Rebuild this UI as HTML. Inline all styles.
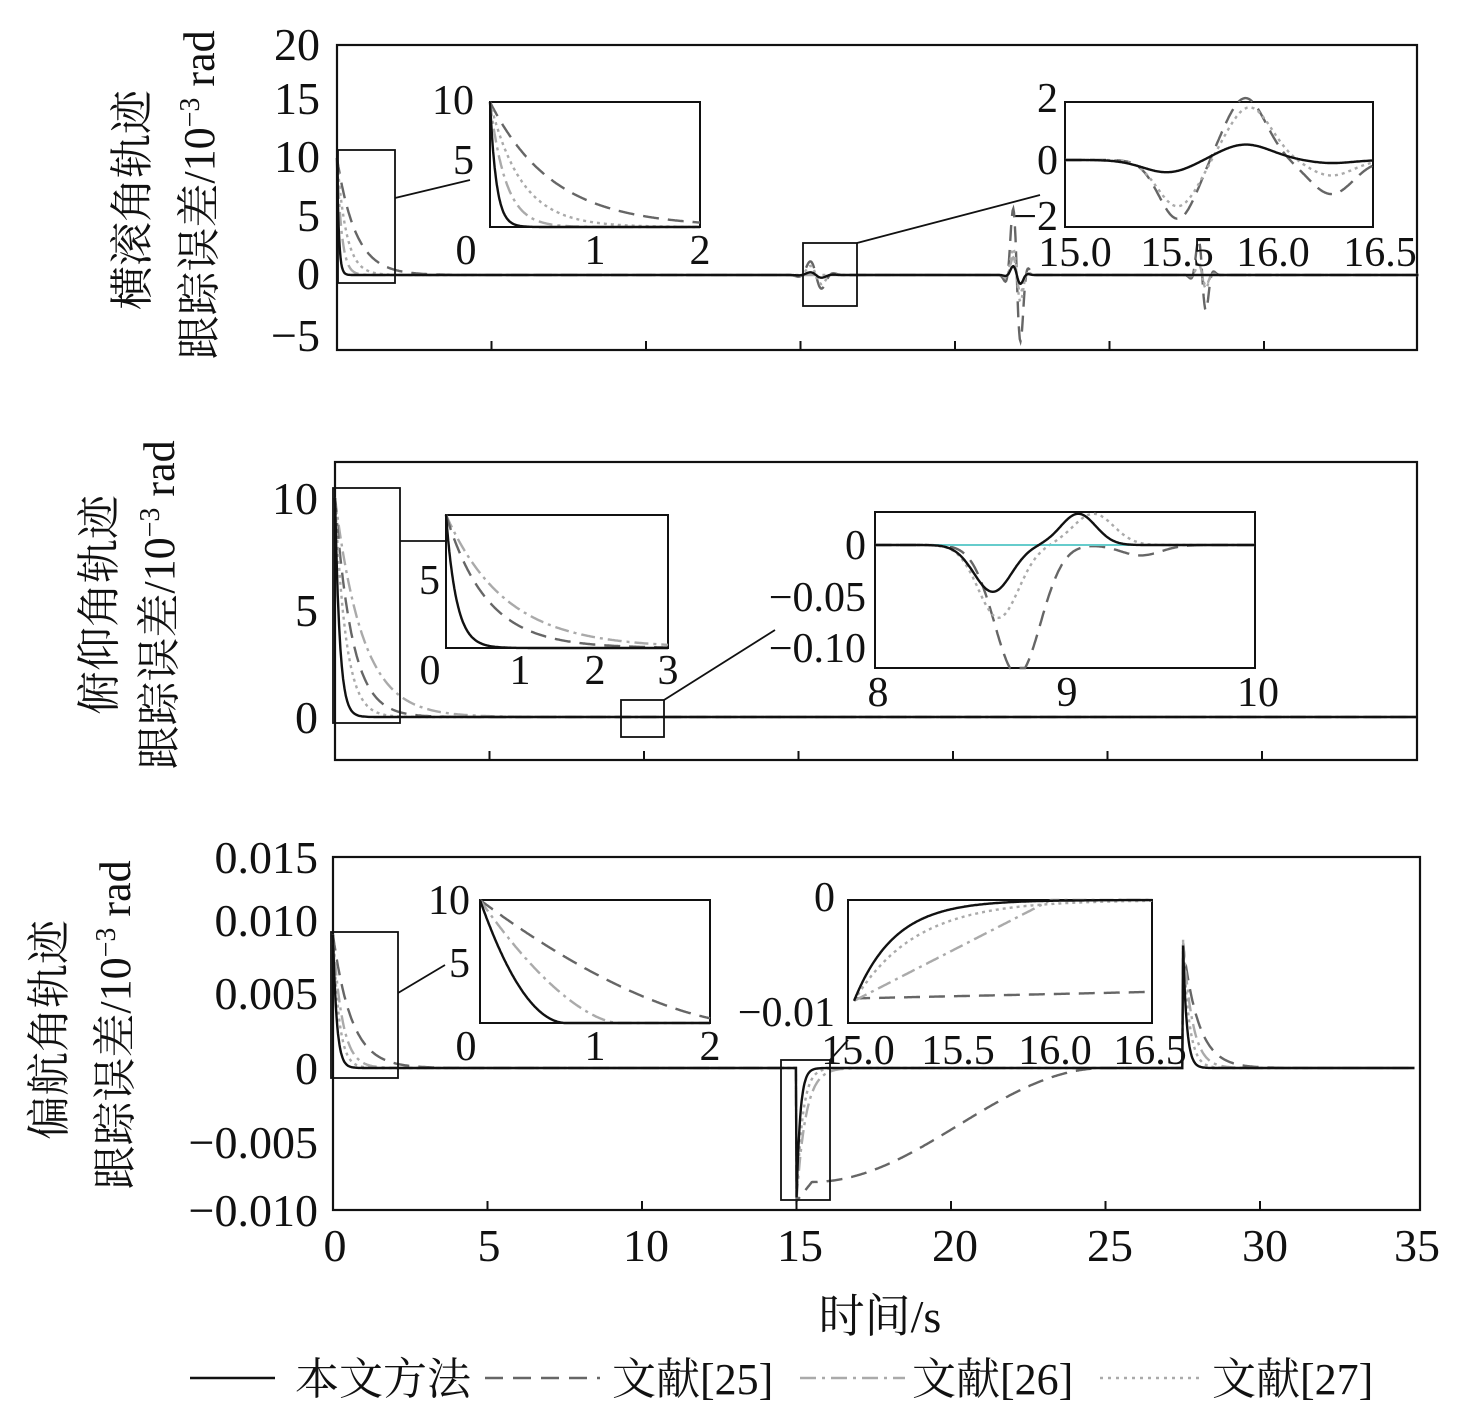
<!DOCTYPE html>
<html><head><meta charset="utf-8"><style>
html,body{margin:0;padding:0;background:#fff;}
svg text{font-family:"Liberation Serif","Noto Serif CJK SC",serif;fill:#111;}
</style></head><body>
<svg id="s" width="1476" height="1409" viewBox="0 0 1476 1409" xmlns="http://www.w3.org/2000/svg">
<g fill="none" stroke="#111" stroke-width="2.2">
<rect x="337" y="45" width="1080" height="305"/>
<rect x="335" y="462" width="1082" height="298"/>
<rect x="333" y="857" width="1087" height="353"/>
</g>
<g font-size="46" text-anchor="end">
<text x="320" y="60">20</text><text x="320" y="114">15</text><text x="320" y="172">10</text><text x="320" y="231">5</text><text x="320" y="289">0</text><text x="320" y="351">−5</text>
<text x="318" y="514">10</text><text x="318" y="626">5</text><text x="318" y="733">0</text>
<text x="318" y="873">0.015</text><text x="318" y="936">0.010</text><text x="318" y="1009">0.005</text><text x="318" y="1084">0</text><text x="318" y="1158">−0.005</text><text x="318" y="1226">−0.010</text>
</g>
<g font-size="46" text-anchor="middle">
<text x="335" y="1261">0</text><text x="489" y="1261">5</text><text x="646" y="1261">10</text><text x="800" y="1261">15</text><text x="955" y="1261">20</text><text x="1110" y="1261">25</text><text x="1265" y="1261">30</text><text x="1417" y="1261">35</text>
<text x="880" y="1332">时间/s</text>
</g>
<g font-size="44" text-anchor="middle">
<text transform="translate(147,200) rotate(-90)">横滚角轨迹</text>
<text transform="translate(214,195) rotate(-90)">跟踪误差/10<tspan font-size="28" dy="-15">−3</tspan><tspan dy="15"> rad</tspan></text>
<text transform="translate(114,605) rotate(-90)">俯仰角轨迹</text>
<text transform="translate(174,605) rotate(-90)">跟踪误差/10<tspan font-size="28" dy="-15">−3</tspan><tspan dy="15"> rad</tspan></text>
<text transform="translate(64,1030) rotate(-90)">偏航角轨迹</text>
<text transform="translate(130,1025) rotate(-90)">跟踪误差/10<tspan font-size="28" dy="-15">−3</tspan><tspan dy="15"> rad</tspan></text>
</g>
<g id="curves"></g>
<g fill="#fff" stroke="#111" stroke-width="2">
<rect x="490" y="102" width="210" height="125"/>
<rect x="1065" y="102" width="308" height="125"/>
<rect x="446" y="515" width="222" height="133"/>
<rect x="875" y="512" width="380" height="156"/>
<rect x="480" y="900" width="230" height="123"/>
<rect x="848" y="900" width="304" height="123"/>
</g>
<g id="icurves"></g>
<g fill="none" stroke="#111" stroke-width="1.8">
<rect x="338" y="150" width="57" height="133"/><rect x="803" y="243" width="54" height="63"/>
<rect x="333" y="488" width="67" height="235"/><rect x="621" y="700" width="43" height="37"/>
<rect x="331" y="932" width="67" height="146"/><rect x="781" y="1060" width="49" height="140"/>
<path d="M395 198L470 180M857 243L1040 195M400 541L446 541M664 700L775 630M398 993L445 965M830 1060L848 1040"/>
</g>
<g font-size="42" text-anchor="end">
<text x="474" y="114">10</text><text x="474" y="174">5</text>
<text x="1058" y="112">2</text><text x="1058" y="174">0</text><text x="1058" y="230">−2</text>
<text x="440" y="594">5</text>
<text x="866" y="559">0</text><text x="866" y="611">−0.05</text><text x="866" y="662">−0.10</text>
<text x="470" y="914">10</text><text x="470" y="977">5</text>
<text x="835" y="911">0</text><text x="835" y="1026">−0.01</text>
</g>
<g font-size="42" text-anchor="middle">
<text x="466" y="264">0</text><text x="595" y="264">1</text><text x="700" y="264">2</text>
<text x="1075" y="266">15.0</text><text x="1177" y="266">15.5</text><text x="1273" y="266">16.0</text><text x="1380" y="266">16.5</text>
<text x="430" y="684">0</text><text x="520" y="684">1</text><text x="595" y="684">2</text><text x="668" y="684">3</text>
<text x="878" y="706">8</text><text x="1067" y="706">9</text><text x="1258" y="706">10</text>
<text x="466" y="1060">0</text><text x="595" y="1060">1</text><text x="710" y="1060">2</text>
<text x="858" y="1064">15.0</text><text x="958" y="1064">15.5</text><text x="1055" y="1064">16.0</text><text x="1150" y="1064">16.5</text>
</g>
<g stroke-width="2.5" fill="none">
<path d="M190 1378H275" stroke="#111"/>
<path d="M485 1378H600" stroke="#666" stroke-dasharray="18 10"/>
<path d="M800 1378H905" stroke="#aaa" stroke-dasharray="16 6 3 6"/>
<path d="M1100 1378H1200" stroke="#aaa" stroke-dasharray="3 5"/>
</g>
<g font-size="44">
<text x="295" y="1394">本文方法</text><text x="612" y="1394">文献[25]</text><text x="912" y="1394">文献[26]</text><text x="1212" y="1394">文献[27]</text>
</g>
<g stroke="#111" stroke-width="2" id="ticks"></g>
</svg>
<script>
var NS="http://www.w3.org/2000/svg";
function P(g,fn,t0,t1,X,Y,st,n){n=n||400;var d="";for(var i=0;i<=n;i++){var t=t0+(t1-t0)*i/n;d+=(i?"L":"M")+X(t).toFixed(1)+" "+Y(fn(t)).toFixed(1);}var p=document.createElementNS(NS,"path");p.setAttribute("d",d);p.setAttribute("fill","none");for(var k in st)p.setAttribute(k,st[k]);document.getElementById(g).appendChild(p);}
var S={blk:{stroke:"#111","stroke-width":2.4},dash:{stroke:"#666","stroke-width":2.4,"stroke-dasharray":"16 9"},dd:{stroke:"#aaa","stroke-width":2.4,"stroke-dasharray":"14 5 3 5"},dot:{stroke:"#aaa","stroke-width":2.4,"stroke-dasharray":"3 4"},teal:{stroke:"#6cc","stroke-width":2}};
function E(t,tau){return t<0?0:Math.exp(-t/tau);}
function W(t,c,a,w,s){return a*Math.sin(2*Math.PI*(t-c)/w)*Math.exp(-Math.pow((t-c)/s,2));}
function G(t,c,a,s){return a*Math.exp(-Math.pow((t-c)/s,2));}
var Xm=function(o){return function(t){return o+t*30.9;};};
var X1=Xm(337),Y1=function(v){return 275-v*11.7;};
P("curves",function(t){return 10*E(t,0.6)+W(t,15.5,-1.5,0.9,0.4)+W(t,22,-7.5,0.6,0.25)+W(t,28,-4,0.6,0.25);},0,35,X1,Y1,S.dash,1500);
P("curves",function(t){return 10*E(t,0.3)+W(t,15.5,-1,0.9,0.4)+W(t,22,-3,0.6,0.25)+W(t,28,-1.5,0.6,0.25);},0,35,X1,Y1,S.dot,1500);
P("curves",function(t){return 10*E(t,0.15)+W(t,22,-2,0.6,0.25)+W(t,28,-1.2,0.6,0.25);},0,35,X1,Y1,S.dd,1500);
P("curves",function(t){return 10*E(t,0.06)+W(t,15.5,-0.3,0.9,0.4)+W(t,22,-1,0.6,0.25);},0,35,X1,Y1,S.blk,1500);
var X2=Xm(335),Y2=function(v){return 717-v*21.9;};
P("curves",function(t){return 10*E(t,0.9);},0,35,X2,Y2,S.dd,800);
P("curves",function(t){return 10*E(t,0.55);},0,35,X2,Y2,S.dash,800);
P("curves",function(t){return 10*E(t,0.35);},0,35,X2,Y2,S.dot,800);
P("curves",function(t){return 10*E(t,0.15);},0,35,X2,Y2,S.blk,800);
var X3=Xm(333),Y3=function(v){return 1068-v*14800;};
P("curves",function(t){if(t<15)return 0.009*E(t,0.6);if(t<15.5)return -0.009+0.0013*(t-15)/0.5;if(t<25)return -0.0077*(0.5+0.5*Math.cos(Math.PI*(t-15.5)/9.5));if(t<27.5)return 0;return 0.0085*E(t-27.5,0.5);},0,35,X3,Y3,S.dash,1500);
P("curves",function(t){if(t<15)return 0.009*E(t,0.3);if(t<27.5)return -0.009*E(t-15,0.3);return 0.009*E(t-27.5,0.3);},0,35,X3,Y3,S.dd,1500);
P("curves",function(t){if(t<15)return 0.009*E(t,0.2);if(t<27.5)return -0.009*E(t-15,0.2);return 0.009*E(t-27.5,0.2);},0,35,X3,Y3,S.dot,1500);
P("curves",function(t){if(t<15)return 0.009*E(t,0.12);if(t<27.5)return -0.009*E(t-15,0.12);return 0.009*E(t-27.5,0.12);},0,35,X3,Y3,S.blk,1500);
var a1x=function(t){return 490+t*105;},a1y=function(v){return 227-v*12.5;};
P("icurves",function(t){return 10*E(t,0.6);},0,2,a1x,a1y,S.dash);
P("icurves",function(t){return 10*E(t,0.3);},0,2,a1x,a1y,S.dot);
P("icurves",function(t){return 10*E(t,0.15);},0,2,a1x,a1y,S.dd);
P("icurves",function(t){return 10*E(t,0.06);},0,2,a1x,a1y,S.blk);
var b1x=function(t){return 1065+(t-15)*205;},b1y=function(v){return 160-v*31;};
P("icurves",function(t){return G(t,15.55,-1.9,0.13)+G(t,15.88,2,0.14)+G(t,16.3,-1.1,0.15);},15,16.5,b1x,b1y,S.dash);
P("icurves",function(t){return G(t,15.55,-1.5,0.14)+G(t,15.9,1.7,0.15)+G(t,16.3,-0.5,0.15);},15,16.5,b1x,b1y,S.dot);
P("icurves",function(t){return G(t,15.5,-0.4,0.17)+G(t,15.88,0.5,0.18)+G(t,16.3,-0.1,0.15);},15,16.5,b1x,b1y,S.blk);
var a2x=function(t){return 446+t*74;},a2y=function(v){return 648-v*13.6;};
P("icurves",function(t){return 9.8*E(t,0.8);},0,3,a2x,a2y,S.dd);
P("icurves",function(t){return 9.8*E(t,0.55);},0,3,a2x,a2y,S.dash);
P("icurves",function(t){return 9.8*E(t,0.14);},0,3,a2x,a2y,S.blk);
var b2x=function(t){return 875+(t-8)*190;},b2y=function(v){return Math.min(668,545-v*1040);};
P("icurves",function(t){return G(t,8.75,-0.125,0.17)+G(t,9.4,-0.01,0.15);},8,10,b2x,b2y,S.dash);
P("icurves",function(t){return G(t,8.65,-0.07,0.15)+G(t,9.15,0.03,0.15);},8,10,b2x,b2y,S.dot);
P("icurves",function(t){return 0;},8,10,b2x,b2y,S.teal);
P("icurves",function(t){return G(t,8.62,-0.045,0.14)+G(t,9.07,0.03,0.13);},8,10,b2x,b2y,S.blk);
var a3x=function(t){return 480+t*115;},a3y=function(v){return 1023-v*12.3;};
P("icurves",function(t){return 10*Math.pow(1-t/2.3,1.6);},0,2,a3x,a3y,S.dash);
P("icurves",function(t){return t<1.2?10*Math.pow(1-t/1.2,1.6):0;},0,2,a3x,a3y,S.dd);
P("icurves",function(t){return t<0.75?10*Math.pow(1-t/0.75,2):0;},0,2,a3x,a3y,S.blk);
var b3x=function(t){return 848+(t-15)*203;},b3y=function(v){return 900-v*11200;};
P("icurves",function(t){return -0.0088+0.0006*(t-15)/1.5;},15.03,16.5,b3x,b3y,S.dash);
P("icurves",function(t){return t<16?-0.009*(1-(t-15.03)/0.97):0;},15.03,16.5,b3x,b3y,S.dd);
P("icurves",function(t){return -0.009*E(t-15.03,0.3);},15.03,16.5,b3x,b3y,S.dot);
P("icurves",function(t){return -0.009*E(t-15.03,0.2);},15.03,16.5,b3x,b3y,S.blk);
var tg=document.getElementById("ticks"),d="";
[[337,350],[335,760],[333,1210]].forEach(function(p){for(var i=1;i<7;i++){var x=p[0]+i*154.5;d+="M"+x+" "+p[1]+"V"+(p[1]-9);}});
var tp=document.createElementNS(NS,"path");tp.setAttribute("d",d);tg.appendChild(tp);
</script>
</body></html>
